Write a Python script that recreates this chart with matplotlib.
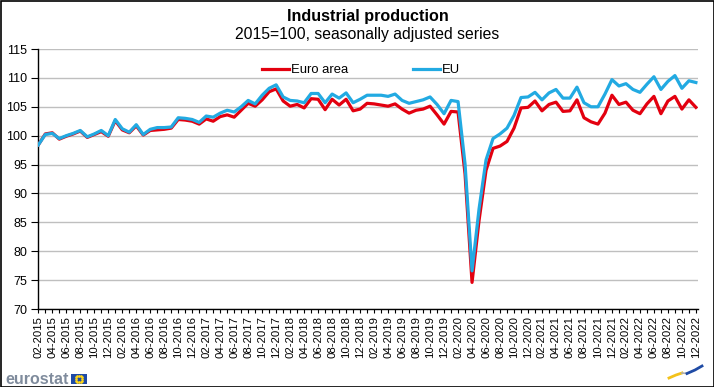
import matplotlib
matplotlib.use('Agg')
import matplotlib.pyplot as plt
from matplotlib.patches import Rectangle
import numpy as np

plt.rcParams['font.family'] = ['Liberation Sans', 'DejaVu Sans']

months = [f"{m:02d}-{y}" for y in range(2015, 2023) for m in range(1, 13)][1:]

eu = [98.4, 100.2, 100.4, 99.5, 100.0, 100.4, 100.9, 99.8, 100.3, 100.9,
      100.0, 102.8, 101.2, 100.6, 101.9, 100.2, 101.1, 101.4, 101.4, 101.5,
      103.1, 103.0, 102.8, 102.3, 103.4, 103.2, 103.9, 104.4, 104.1, 105.0,
      106.1, 105.5, 107.0, 108.2, 108.8, 106.7, 106.1, 106.0, 105.7, 107.3,
      107.3, 105.7, 107.2, 106.5, 107.4, 105.7, 106.3, 107.0, 107.0, 107.0,
      106.8, 107.2, 106.1, 105.6, 105.9, 106.2, 106.7, 105.4, 103.8, 106.1,
      105.9, 95.1, 76.6, 87.3, 95.8, 99.5, 100.3, 101.3, 103.5, 106.6,
      106.7, 107.5, 106.2, 107.4, 108.0, 106.5, 106.5, 108.4, 105.7, 105.0,
      105.0, 107.2, 109.7, 108.6, 109.0, 108.0, 107.5, 108.9, 110.2, 108.0,
      109.4, 110.4, 108.2, 109.5, 109.2]

euro_area = [98.4, 100.3, 100.5, 99.4, 99.9, 100.3, 100.8, 99.7, 100.2, 100.7,
             99.9, 102.6, 101.0, 100.5, 101.7, 100.1, 100.9, 101.0, 101.1, 101.3,
             102.8, 102.7, 102.5, 102.0, 102.9, 102.5, 103.3, 103.6, 103.2, 104.4,
             105.6, 105.1, 106.2, 107.6, 108.1, 106.0, 105.1, 105.4, 104.8, 106.4,
             106.3, 104.5, 106.3, 105.3, 106.3, 104.3, 104.6, 105.6, 105.5, 105.3,
             105.1, 105.5, 104.6, 103.9, 104.4, 104.6, 105.1, 103.6, 102.0, 104.2,
             104.1, 93.4, 74.6, 85.3, 94.0, 97.8, 98.2, 99.0, 101.3, 104.8,
             104.9, 106.0, 104.3, 105.4, 105.8, 104.2, 104.3, 106.2, 103.1, 102.4,
             102.0, 103.9, 107.0, 105.4, 105.8, 104.4, 103.8, 105.5, 106.8, 103.8,
             106.0, 106.8, 104.6, 106.2, 104.9]

y_ticks = [70, 75, 80, 85, 90, 95, 100, 105, 110, 115]

RED = '#E3000F'
BLUE = '#22AAE2'

fig = plt.figure(figsize=(7.14, 3.87), dpi=100)
fig.patch.set_facecolor('white')
ax = fig.add_axes([38.3 / 714, 1 - 309 / 387, (698 - 38.3) / 714, (309 - 49) / 387])

x = np.arange(len(months))
ax.plot(x, euro_area, color=RED, lw=2.3, label='Euro area', solid_joinstyle='round', zorder=3)
ax.plot(x, eu, color=BLUE, lw=2.3, label='EU', solid_joinstyle='round', zorder=4)

ax.set_ylim(70, 115)
ax.set_xlim(0, len(months) - 1 + 0.3)
ax.set_yticks(y_ticks)
ax.set_yticklabels([str(t) for t in y_ticks], fontsize=9)
ax.yaxis.grid(True, color='#BFBFBF', lw=1)
ax.set_axisbelow(True)

ax.set_xticks(x[::2])
ax.set_xticklabels(months[::2], rotation=90, fontsize=8.2)
ax.set_xticks(x, minor=True)
ax.tick_params(axis='x', which='both', length=3, width=0.8, pad=2, direction='out')
ax.tick_params(axis='y', length=5, width=0.8, pad=3, direction='out')

for s in ['top', 'right']:
    ax.spines[s].set_visible(False)
for s in ['left', 'bottom']:
    ax.spines[s].set_color('black')
    ax.spines[s].set_linewidth(1)

leg = fig.legend(loc='center', bbox_to_anchor=(361 / 714, 1 - 70 / 387), ncol=2,
                 frameon=False, fontsize=9.4, handlelength=2.1, handletextpad=0.15,
                 columnspacing=4.9)

fig.text(368 / 714, 1 - 17 / 387, 'Industrial production', ha='center', va='center',
         fontsize=11.6, fontweight='bold')
fig.text(367 / 714, 1 - 35 / 387, '2015=100, seasonally adjusted series', ha='center',
         va='center', fontsize=11.3)

# eurostat logo
fig.text(5 / 714, 1 - 379 / 387, 'eurostat', ha='left', va='center', fontsize=11.5,
         fontweight='bold', color='#7F8B9C')
flag = Rectangle((71 / 714, 1 - 384 / 387), 16 / 714, 10 / 387, transform=fig.transFigure,
                 facecolor='#1F4BA5', edgecolor='none')
fig.patches.append(flag)
ang = np.linspace(0, 2 * np.pi, 12, endpoint=False)
fig.lines.append(plt.Line2D((79 + 3.2 * np.cos(ang)) / 714, 1 - (379 + 3.2 * np.sin(ang)) / 387,
                            transform=fig.transFigure, ls='none', marker='o', ms=0.9,
                            color='#FFD617'))

# swoosh bottom right
fig.lines.append(plt.Line2D([669 / 714, 676 / 714, 682 / 714], [1 - 378 / 387, 1 - 375 / 387, 1 - 373 / 387],
                            transform=fig.transFigure, color='#F3C21B', lw=2))
fig.lines.append(plt.Line2D([682 / 714, 687 / 714], [1 - 373 / 387, 1 - 373.5 / 387],
                            transform=fig.transFigure, color='#B0B0B0', lw=1.2))
fig.lines.append(plt.Line2D([687 / 714, 695 / 714, 702 / 714], [1 - 373.5 / 387, 1 - 370 / 387, 1 - 366 / 387],
                            transform=fig.transFigure, color='#1F4BA5', lw=2))

border = Rectangle((0.5 / 714, 0.5 / 387), 713 / 714, 386 / 387, transform=fig.transFigure,
                   facecolor='none', edgecolor='black', lw=1.2)
fig.patches.append(border)

fig.savefig('out.png', dpi=100, facecolor='white')
